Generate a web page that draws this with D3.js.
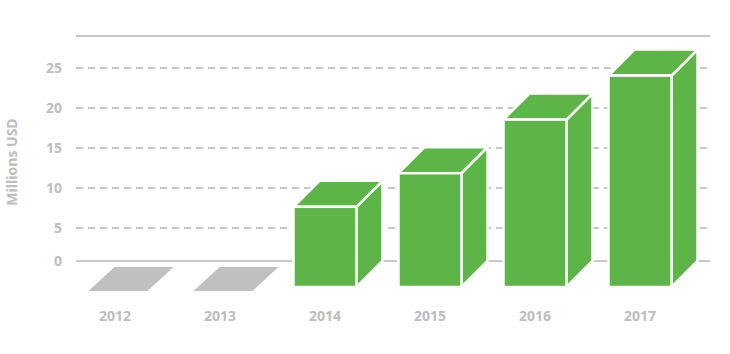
<!DOCTYPE html>
<html>
<head>
<meta charset="utf-8">
<script src="https://cdn.jsdelivr.net/npm/d3@7"></script>
<style>
  body { margin: 0; background: #fff; }
  text { font-family: "Open Sans", sans-serif; font-weight: 700; fill: #bdbdbd; }
</style>
</head>
<body>
<div id="chart"></div>
<script>
const years = ['2012', '2013', '2014', '2015', '2016', '2017'];
const values = [0, 0, 10.9, 15.1, 21.8, 27.3];
const yTicks = [0, 5, 10, 15, 20, 25];
const yTitle = 'Millions USD';

const width = 730;
const height = 354;
const depth = 26;          // 3d offset of the boxes
const gridLeft = 76;
const gridRight = 710;

const svg = d3.select('#chart').append('svg')
    .attr('width', width)
    .attr('height', height);

const xScale = d3.scaleBand()
    .domain(years)
    .range([83.5, 671.5])
    .paddingInner(0.4);

// zero line sits a little closer to 5 than the other steps
const yScale = d3.scaleLinear()
    .domain([0, 5, 29])
    .range([261, 228, 36]);

// grid
svg.append('g')
    .selectAll('line')
    .data(yTicks.filter(d => d > 0))
    .enter()
    .append('line')
    .attr('x1', gridLeft)
    .attr('x2', gridRight)
    .attr('y1', d => yScale(d))
    .attr('y2', d => yScale(d))
    .attr('stroke', '#c8c8c8')
    .attr('stroke-width', 2)
    .attr('stroke-dasharray', '7,5');

[0, 29].forEach(v => {
    svg.append('line')
        .attr('x1', gridLeft)
        .attr('x2', gridRight)
        .attr('y1', yScale(v))
        .attr('y2', yScale(v))
        .attr('stroke', '#c8c8c8')
        .attr('stroke-width', 2);
});

// y labels
svg.append('g')
    .selectAll('text')
    .data(yTicks)
    .enter()
    .append('text')
    .attr('x', 62)
    .attr('y', d => yScale(d) + 5)
    .attr('text-anchor', 'end')
    .attr('font-size', 14)
    .text(d => d);

svg.append('text')
    .attr('transform', 'translate(17,162) rotate(-90)')
    .attr('text-anchor', 'middle')
    .attr('font-size', 14)
    .text(yTitle);

// boxes
const base = yScale(0) + depth;
const green = '#5db548';

years.forEach((year, i) => {
    const x0 = xScale(year);
    const x1 = x0 + xScale.bandwidth();
    const v = values[i];
    const g = svg.append('g');

    if (v === 0) {
        // flat grey footprint
        const a = x0 + 5, b = x0 + 5 + 59, yb = base + 4;
        g.append('polygon')
            .attr('points', [[a, yb], [a + depth, yb - 24], [b + depth, yb - 24], [b, yb]].join(' '))
            .attr('fill', '#c0c0c0');
        return;
    }

    const yf = yScale(v) + depth;

    g.append('polygon')
        .attr('points', [[x1, yf], [x1 + depth, yf - depth], [x1 + depth, base - depth], [x1, base]].join(' '))
        .attr('fill', green)
        .attr('stroke', '#fff')
        .attr('stroke-width', 2.5)
        .attr('stroke-linejoin', 'round');

    g.append('polygon')
        .attr('points', [[x0, yf], [x0 + depth, yf - depth], [x1 + depth, yf - depth], [x1, yf]].join(' '))
        .attr('fill', green)
        .attr('stroke', '#fff')
        .attr('stroke-width', 2.5)
        .attr('stroke-linejoin', 'round');

    g.append('rect')
        .attr('x', x0)
        .attr('y', yf)
        .attr('width', xScale.bandwidth())
        .attr('height', base - yf)
        .attr('fill', green)
        .attr('stroke', '#fff')
        .attr('stroke-width', 2.5);
});

// x labels
svg.append('g')
    .selectAll('text')
    .data(years)
    .enter()
    .append('text')
    .attr('x', d => xScale(d) + xScale.bandwidth() / 2)
    .attr('y', 321)
    .attr('text-anchor', 'middle')
    .attr('font-size', 14)
    .text(d => d);
</script>
</body>
</html>
